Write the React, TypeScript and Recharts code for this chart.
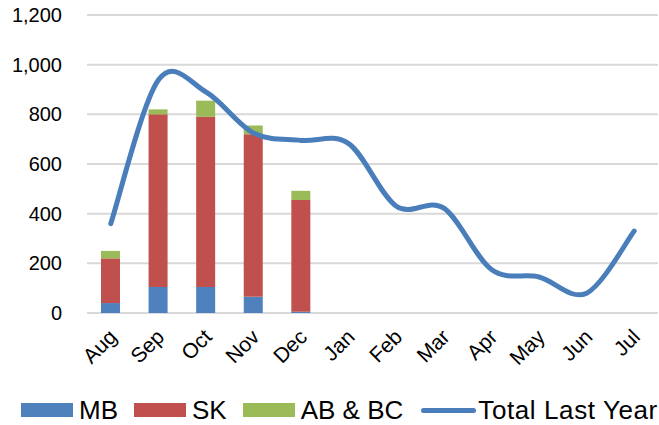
import React from 'react';
import { ComposedChart, Bar, Line, XAxis, YAxis, CartesianGrid, Legend } from 'recharts';

const months = ['Aug', 'Sep', 'Oct', 'Nov', 'Dec', 'Jan', 'Feb', 'Mar', 'Apr', 'May', 'Jun', 'Jul'];
const mbValues = [40, 105, 105, 65, 5, null, null, null, null, null, null, null];
const skValues = [180, 695, 685, 655, 450, null, null, null, null, null, null, null];
const abbcValues = [30, 20, 65, 35, 37, null, null, null, null, null, null, null];
const totalLastYear = [360, 938, 890, 725, 695, 682, 430, 422, 175, 145, 80, 330];
const yTicks = [0, 200, 400, 600, 800, 1000, 1200];

const data = months.map((m, i) => ({
  month: m,
  MB: mbValues[i],
  SK: skValues[i],
  ABBC: abbcValues[i],
  total: totalLastYear[i],
}));

const FONT = '"Liberation Sans", Arial, sans-serif';

class CatmullRom {
  _ctx: any;
  _pts: number[][] = [];
  constructor(ctx: any) {
    this._ctx = ctx;
  }
  areaStart() {}
  areaEnd() {}
  lineStart() {
    this._pts = [];
  }
  point(x: number, y: number) {
    this._pts.push([+x, +y]);
  }
  lineEnd() {
    const p = this._pts;
    const c = this._ctx;
    if (!p.length) return;
    c.moveTo(p[0][0], p[0][1]);
    for (let i = 0; i < p.length - 1; i++) {
      const p0 = p[i - 1] || p[i];
      const p1 = p[i];
      const p2 = p[i + 1];
      const p3 = p[i + 2] || p[i + 1];
      const c1x = p1[0] + (p2[0] - p0[0]) / 6;
      const c1y = p1[1] + (p2[1] - p0[1]) / 6;
      const c2x = p2[0] - (p3[0] - p1[0]) / 6;
      const c2y = p2[1] - (p3[1] - p1[1]) / 6;
      c.bezierCurveTo(c1x, c1y, c2x, c2y, p2[0], p2[1]);
    }
  }
}
const smoothCurve: any = (ctx: any) => new CatmullRom(ctx);

const legendItems = [
  { label: 'MB', color: '#4f81bd', kind: 'rect' },
  { label: 'SK', color: '#c0504d', kind: 'rect' },
  { label: 'AB & BC', color: '#9bbb59', kind: 'rect' },
  { label: 'Total Last Year', color: '#4a7ebb', kind: 'line' },
];

const renderLegend = () => (
  <div style={{ display: 'flex', alignItems: 'center', paddingLeft: 21, height: 30, fontFamily: FONT, fontSize: 26, color: '#000' }}>
    {legendItems.map((it) => (
      <div key={it.label} style={{ display: 'flex', alignItems: 'center', marginRight: 16 }}>
        {it.kind === 'rect' ? (
          <div style={{ width: 52, height: 14, background: it.color, marginRight: 6 }} />
        ) : (
          <div style={{ width: 55, height: 5, borderRadius: 3, background: it.color, marginRight: 2, marginLeft: 2 }} />
        )}
        <span style={{ lineHeight: '30px', whiteSpace: 'nowrap', letterSpacing: it.kind === 'line' ? 0.6 : 0 }}>{it.label}</span>
      </div>
    ))}
  </div>
);

const XTick = (props: any) => {
  const { x, y, payload } = props;
  const ax = x + 2;
  const ay = y + 12;
  return (
    <text
      x={ax}
      y={ay}
      transform={`rotate(-45, ${ax}, ${ay})`}
      textAnchor="end"
      dy="0.35em"
      fontFamily={FONT}
      fontSize={21}
      fill="#000"
    >
      {payload.value}
    </text>
  );
};

export default function App() {
  return (
    <div style={{ position: 'absolute', left: 0, top: 0 }}>
      <ComposedChart width={659} height={425} data={data} margin={{ top: 15, right: 1, left: 0, bottom: 0 }}>
        <CartesianGrid vertical={false} stroke="#d9d9d9" strokeWidth={2} />
        <XAxis dataKey="month" tickLine={false} axisLine={false} height={82} tick={<XTick />} interval={0} />
        <YAxis
          width={87}
          domain={[0, 1200]}
          ticks={yTicks}
          tickLine={false}
          axisLine={false}
          tickSize={0}
          tickMargin={25}
          tickFormatter={(v: number) => v.toLocaleString('en-US')}
          tick={{ fontFamily: FONT, fontSize: 20, fill: '#000' }}
        />
        <Bar dataKey="MB" stackId="a" fill="#4f81bd" barSize={19} isAnimationActive={false} />
        <Bar dataKey="SK" stackId="a" fill="#c0504d" barSize={19} isAnimationActive={false} />
        <Bar dataKey="ABBC" name="AB & BC" stackId="a" fill="#9bbb59" barSize={19} isAnimationActive={false} />
        <Line
          dataKey="total"
          name="Total Last Year"
          type={smoothCurve}
          stroke="#4a7ebb"
          strokeWidth={5}
          dot={false}
          strokeLinecap="round"
          isAnimationActive={false}
        />
        <Legend verticalAlign="bottom" content={renderLegend} wrapperStyle={{ height: 30 }} />
      </ComposedChart>
    </div>
  );
}
